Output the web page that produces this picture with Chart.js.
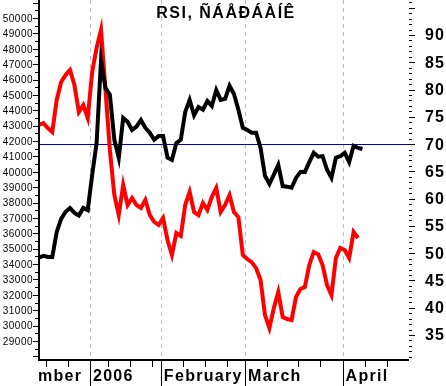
<!DOCTYPE html>
<html>
<head>
<meta charset="utf-8">
<script src="https://cdn.jsdelivr.net/npm/chart.js@4"></script>
<style>
  body { margin: 0; background: #fff; }
  canvas { display: block; }
</style>
</head>
<body>
<canvas id="rsiChart" width="446" height="386"></canvas>
<script>
// price (left axis) and RSI (right axis), one value per trading day
const priceValues = [
    43040, 43170, 42850, 42590, 44670, 45840, 46290, 46620, 45640, 43890,
    44340, 43500, 46490, 48050, 49220, 45320, 41420, 38490, 37190, 39140,
    37840, 38300, 37840, 37650, 38170, 37190, 36740, 36540, 37000, 35570,
    34590, 36020, 35830, 37840, 38690, 37390, 37190, 37970, 37520, 38360,
    38950, 37390, 37840, 38490, 37390, 37060, 34590, 34330, 34130, 33740,
    32960, 30690, 29840, 31140, 32180, 30560, 30430, 30360, 31860, 32380,
    32510, 33940, 34790, 34650, 33940, 32640, 31990, 34400, 35050, 34920,
    34400, 36090, 35700
];
const rsiValues = [
    49.2, 49.5, 49.3, 49.3, 53.9, 56.3, 57.6, 58.3, 57.4, 56.9,
    58.3, 57.9, 64.4, 70.2, 85.4, 80.3, 79.0, 70.8, 67.5, 74.8,
    74.1, 72.6, 73.2, 74.4, 73.0, 72.1, 70.8, 71.5, 71.5, 67.5,
    67.1, 70.2, 70.8, 75.9, 78.1, 75.3, 76.8, 76.3, 77.9, 77.0,
    79.9, 78.1, 78.3, 80.7, 79.2, 76.3, 73.0, 72.6, 72.1, 72.1,
    69.3, 64.2, 62.7, 64.4, 66.2, 62.3, 62.2, 62.0, 63.8, 64.9,
    64.9, 66.7, 68.4, 67.7, 67.8, 65.3, 63.8, 67.5, 67.8, 68.4,
    66.7, 69.7, 69.3, 69.1
];

const leftTickLabels = [29000, 30000, 31000, 32000, 33000, 34000, 35000, 36000, 37000, 38000, 39000,
    40000, 41000, 42000, 43000, 44000, 45000, 46000, 47000, 48000, 49000, 50000];
const rightTickLabels = [35, 40, 45, 50, 55, 60, 65, 70, 75, 80, 85, 90];

const monthNames = ['mber', '2006', 'February', 'March', 'April'];
const monthEdges = [11.5, 27.5, 46.5, 68.5];      // day index between months
const weekTicks = [1.5, 6.5, 15.5, 20.5, 25.5, 32.5, 37.5, 42.5, 51.5, 58.5, 63.5, 73.5, 78.5];
const rsiLevel = 70;
const titleText = 'RSI, ÑÁÅÐÁÀÍÊ';

const decor = {
    id: 'decor',
    beforeDatasetsDraw(chart) {
        const { ctx, chartArea: a, scales } = chart;
        ctx.save();
        // dashed month separators
        ctx.strokeStyle = '#bcbcbc';
        ctx.lineWidth = 1;
        ctx.setLineDash([4, 4]);
        monthEdges.forEach(m => {
            const px = Math.round(scales.x.getPixelForValue(m)) + 0.5;
            ctx.beginPath();
            ctx.moveTo(px, a.top);
            ctx.lineTo(px, a.bottom);
            ctx.stroke();
        });
        // 70 level
        ctx.setLineDash([]);
        ctx.strokeStyle = '#0000c8';
        const py = Math.round(scales.y2.getPixelForValue(rsiLevel)) + 0.5;
        ctx.beginPath();
        ctx.moveTo(a.left, py);
        ctx.lineTo(a.right + 2, py);
        ctx.stroke();
        ctx.restore();
    },
    afterDraw(chart) {
        const { ctx, chartArea: a, scales } = chart;
        ctx.save();
        ctx.fillStyle = '#000';

        // axis lines
        ctx.fillRect(a.left - 1, a.top, 2, a.bottom - a.top + 1);
        ctx.fillRect(a.left - 1, a.bottom - 1, a.right - a.left + 1, 2);

        // left ticks
        for (let v = 28000; v <= 51000; v += 500) {
            const py = Math.round(scales.y.getPixelForValue(v));
            const len = v % 1000 === 0 ? 5 : 3;
            ctx.fillRect(a.left - 1 - len, py, len, 1);
        }
        ctx.font = '10px Arial';
        ctx.letterSpacing = '0.5px';
        ctx.textAlign = 'right';
        ctx.textBaseline = 'middle';
        leftTickLabels.forEach(v => {
            ctx.fillText(String(v), 33, scales.y.getPixelForValue(v) + 1);
        });

        // right ticks
        for (let v = 31; v <= 96; v++) {
            const py = Math.round(scales.y2.getPixelForValue(v));
            const len = v % 5 === 0 ? 6 : 3;
            ctx.fillRect(a.right, py, len, 1);
        }
        ctx.font = 'bold 16px Arial';
        ctx.letterSpacing = '1px';
        ctx.textAlign = 'left';
        rightTickLabels.forEach(v => {
            ctx.fillText(String(v), 425, scales.y2.getPixelForValue(v) + 1);
        });

        // bottom ticks
        weekTicks.forEach(d => {
            const px = Math.round(scales.x.getPixelForValue(d));
            ctx.fillRect(px, a.bottom, 1, 7);
        });
        monthEdges.forEach(d => {
            const px = Math.round(scales.x.getPixelForValue(d));
            ctx.fillRect(px, a.bottom, 1, chart.height - a.bottom);
        });
        ctx.font = 'bold 16px Arial';
        ctx.letterSpacing = '1.3px';
        ctx.textBaseline = 'alphabetic';
        monthNames.forEach((name, i) => {
            const px = i === 0 ? a.left - 1 : scales.x.getPixelForValue(monthEdges[i - 1]) + 3;
            ctx.fillText(name, px, 381);
        });

        // title
        ctx.font = 'bold 16px Arial';
        ctx.letterSpacing = '1.5px';
        ctx.textAlign = 'center';
        ctx.fillText(titleText, 226, 18);
        ctx.restore();
    }
};

new Chart(document.getElementById('rsiChart'), {
    type: 'line',
    data: {
        datasets: [{
            label: 'RSI',
            data: rsiValues.map((v, i) => ({ x: i, y: v })),
            yAxisID: 'y2',
            borderColor: '#000000',
            borderWidth: 4,
            pointRadius: 0,
            tension: 0
        }, {
            label: 'Price',
            data: priceValues.map((v, i) => ({ x: i, y: v })),
            yAxisID: 'y',
            borderColor: '#ff0000',
            borderWidth: 4,
            pointRadius: 0,
            tension: 0
        }]
    },
    options: {
        responsive: false,
        animation: false,
        devicePixelRatio: 1,
        layout: { padding: { left: 39, right: 37, top: 0, bottom: 26 } },
        plugins: {
            legend: { display: false },
            tooltip: { enabled: false }
        },
        scales: {
            x: { type: 'linear', min: 0, max: 83.5, display: false },
            y: { min: 27765, max: 51170, display: false },
            y2: { min: 30.42, max: 96.42, display: false, position: 'right' }
        }
    },
    plugins: [decor]
});
</script>
</body>
</html>
